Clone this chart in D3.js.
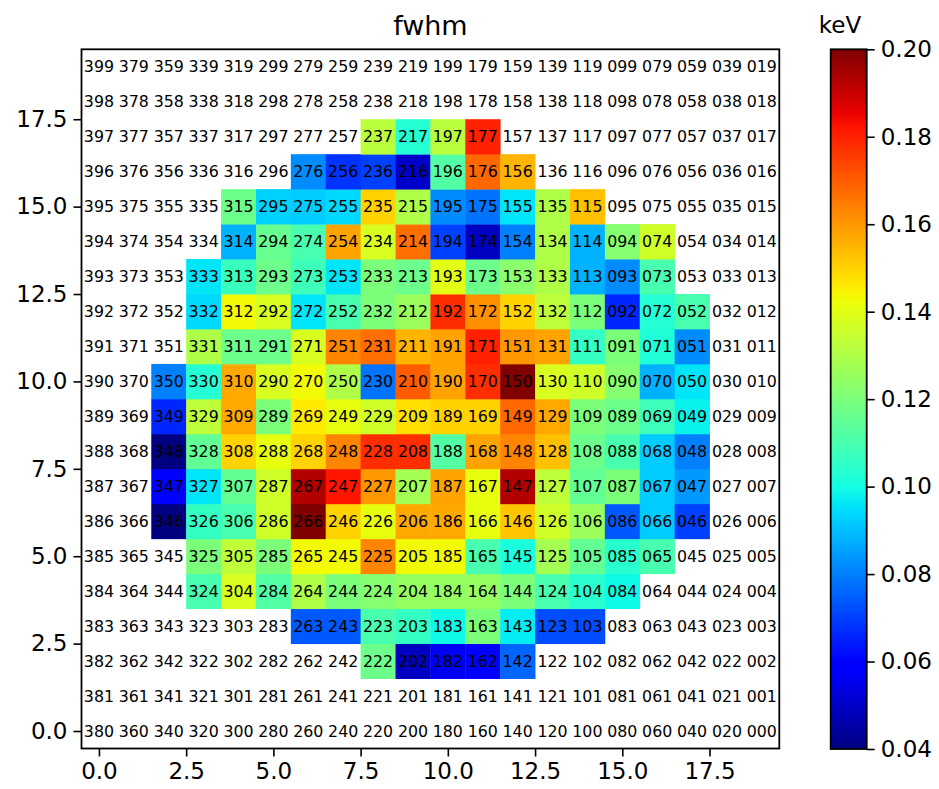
<!DOCTYPE html>
<html lang="en">
<head>
<meta charset="utf-8">
<title>fwhm</title>
<script src="https://d3js.org/d3.v7.min.js"></script>
<style>
  body { margin: 0; background: #fff; }
  svg { font-family: "DejaVu Sans", sans-serif; }
</style>
</head>
<body>
<script>
// grid is 20 x 20 pixels, only the measured ones carry a value
var nCols = 20, nRows = 20;
var vmin = 0.04, vmax = 0.20;

// row index (y) and the first column (x) that has a value in that row
var rowIndex = [2, 3, 4, 5, 6, 7, 8, 9, 10, 11, 12, 13, 14, 15, 16, 17];
var firstCol = [8, 6, 3, 3, 2, 2, 2, 2, 2, 3, 3, 3, 4, 4, 6, 8];

// fwhm values in keV, left to right, one list per row
var fwhm = [
  [0.117, 0.049, 0.056, 0.060, 0.076],
  [0.074, 0.074, 0.110, 0.106, 0.099, 0.120, 0.097, 0.072, 0.072],
  [0.110, 0.138, 0.112, 0.130, 0.120, 0.122, 0.125, 0.125, 0.125, 0.120, 0.110, 0.104, 0.099],
  [0.120, 0.133, 0.120, 0.143, 0.143, 0.163, 0.143, 0.143, 0.110, 0.101, 0.128, 0.115, 0.104, 0.110],
  [0.040, 0.106, 0.110, 0.136, 0.200, 0.150, 0.141, 0.157, 0.157, 0.141, 0.152, 0.136, 0.126, 0.074, 0.092, 0.070],
  [0.058, 0.096, 0.115, 0.136, 0.193, 0.182, 0.160, 0.128, 0.158, 0.141, 0.193, 0.133, 0.115, 0.120, 0.092, 0.084],
  [0.040, 0.115, 0.150, 0.141, 0.150, 0.163, 0.178, 0.178, 0.112, 0.158, 0.163, 0.153, 0.117, 0.110, 0.092, 0.080],
  [0.066, 0.133, 0.157, 0.120, 0.146, 0.141, 0.136, 0.148, 0.150, 0.150, 0.168, 0.157, 0.120, 0.117, 0.108, 0.098],
  [0.080, 0.103, 0.157, 0.138, 0.143, 0.130, 0.078, 0.170, 0.158, 0.178, 0.200, 0.138, 0.136, 0.122, 0.088, 0.096],
  [0.130, 0.117, 0.117, 0.138, 0.163, 0.167, 0.155, 0.158, 0.180, 0.160, 0.158, 0.106, 0.120, 0.102, 0.082],
  [0.094, 0.143, 0.138, 0.096, 0.110, 0.120, 0.126, 0.178, 0.161, 0.150, 0.133, 0.120, 0.066, 0.103, 0.110],
  [0.096, 0.107, 0.117, 0.108, 0.096, 0.120, 0.117, 0.140, 0.117, 0.123, 0.130, 0.088, 0.082, 0.110],
  [0.088, 0.116, 0.110, 0.158, 0.138, 0.167, 0.070, 0.049, 0.080, 0.130, 0.088, 0.122, 0.136],
  [0.117, 0.093, 0.092, 0.094, 0.150, 0.130, 0.082, 0.078, 0.096, 0.130, 0.153],
  [0.082, 0.068, 0.070, 0.050, 0.112, 0.168, 0.155],
  [0.132, 0.103, 0.132, 0.180]
];

var axisTicks = [0, 2.5, 5, 7.5, 10, 12.5, 15, 17.5];
var cbarTicks = [0.04, 0.06, 0.08, 0.10, 0.12, 0.14, 0.16, 0.18, 0.20];

var width = 939, height = 789;
var plot = { left: 81.5, right: 779.3, top: 49.3, bottom: 748.5 };
var cbar = { left: 830.7, right: 866.7, top: 49.3, bottom: 749 };

// matplotlib "jet" segment data
var jr = d3.scaleLinear().domain([0, 0.35, 0.66, 0.89, 1]).range([0, 0, 1, 1, 0.5]).clamp(true);
var jg = d3.scaleLinear().domain([0, 0.125, 0.375, 0.64, 0.91, 1]).range([0, 0, 1, 1, 0, 0]).clamp(true);
var jb = d3.scaleLinear().domain([0, 0.11, 0.34, 0.65, 1]).range([0.5, 1, 1, 0, 0]).clamp(true);
function jet(t) {
  return d3.rgb(Math.round(jr(t) * 255), Math.round(jg(t) * 255), Math.round(jb(t) * 255)).toString();
}
var norm = d3.scaleLinear().domain([vmin, vmax]).range([0, 1]).clamp(true);
function color(v) { return jet(norm(v)); }

var x = d3.scaleLinear().domain([-0.5, nCols - 0.5]).range([plot.left, plot.right]);
var y = d3.scaleLinear().domain([-0.5, nRows - 0.5]).range([plot.bottom, plot.top]);
var cw = x(1) - x(0), ch = y(0) - y(1);

var cells = [];
rowIndex.forEach(function(r, i) {
  fwhm[i].forEach(function(v, k) {
    cells.push({ col: firstCol[i] + k, row: r, value: v });
  });
});

var labels = [];
for (var c = 0; c < nCols; c++) {
  for (var r = 0; r < nRows; r++) {
    labels.push({ col: c, row: r, id: (nCols - 1 - c) * nRows + r });
  }
}

var svg = d3.select("body").append("svg")
  .attr("width", width)
  .attr("height", height);

svg.append("g").selectAll("rect")
  .data(cells)
  .enter().append("rect")
  .attr("x", function(d) { return x(d.col - 0.5); })
  .attr("y", function(d) { return y(d.row + 0.5); })
  .attr("width", cw + 0.4)
  .attr("height", ch + 0.4)
  .attr("fill", function(d) { return color(d.value); });

var fmtId = d3.format("03d");
svg.append("g").selectAll("text")
  .data(labels)
  .enter().append("text")
  .attr("x", function(d) { return x(d.col); })
  .attr("y", function(d) { return y(d.row); })
  .attr("dy", "0.36em")
  .attr("text-anchor", "middle")
  .style("font-size", "15.8px")
  .attr("fill", "#000")
  .text(function(d) { return fmtId(d.id); });

function styleAxis(g) {
  g.selectAll(".domain").remove();
  g.selectAll(".tick line").attr("stroke", "#000").attr("stroke-width", 1.6);
  g.selectAll(".tick text").style("font-size", "23px").attr("fill", "#000");
}

svg.append("g")
  .attr("transform", "translate(0," + plot.bottom + ")")
  .call(d3.axisBottom(x).tickValues(axisTicks).tickFormat(d3.format(".1f")).tickSizeOuter(0).tickSize(8).tickPadding(6))
  .attr("font-family", null)
  .call(styleAxis);

svg.append("g")
  .attr("transform", "translate(" + plot.left + ",0)")
  .call(d3.axisLeft(y).tickValues(axisTicks).tickFormat(d3.format(".1f")).tickSizeOuter(0).tickSize(8).tickPadding(6))
  .attr("font-family", null)
  .call(styleAxis);

svg.append("rect")
  .attr("x", plot.left).attr("y", plot.top)
  .attr("width", plot.right - plot.left).attr("height", plot.bottom - plot.top)
  .attr("fill", "none").attr("stroke", "#000").attr("stroke-width", 1.8);

svg.append("text")
  .attr("x", (plot.left + plot.right) / 2)
  .attr("y", 35)
  .attr("text-anchor", "middle")
  .style("font-size", "27px")
  .text("fwhm");

// colorbar
var cy = d3.scaleLinear().domain([vmin, vmax]).range([cbar.bottom, cbar.top]);
var grad = svg.append("defs").append("linearGradient")
  .attr("id", "jet").attr("x1", 0).attr("y1", 1).attr("x2", 0).attr("y2", 0);
grad.selectAll("stop")
  .data(d3.range(0, 129).map(function(i) { return i / 128; }))
  .enter().append("stop")
  .attr("offset", function(d) { return d; })
  .attr("stop-color", function(d) { return jet(d); });

svg.append("rect")
  .attr("x", cbar.left).attr("y", cbar.top)
  .attr("width", cbar.right - cbar.left).attr("height", cbar.bottom - cbar.top)
  .attr("fill", "url(#jet)")
  .attr("stroke", "#000").attr("stroke-width", 1.8);

svg.append("g")
  .attr("transform", "translate(" + cbar.right + ",0)")
  .call(d3.axisRight(cy).tickValues(cbarTicks).tickFormat(d3.format(".2f")).tickSizeOuter(0).tickSize(8).tickPadding(6))
  .attr("font-family", null)
  .call(styleAxis);

svg.append("text")
  .attr("x", 840)
  .attr("y", 33)
  .attr("text-anchor", "middle")
  .style("font-size", "23px")
  .text("keV");
</script>
</body>
</html>
